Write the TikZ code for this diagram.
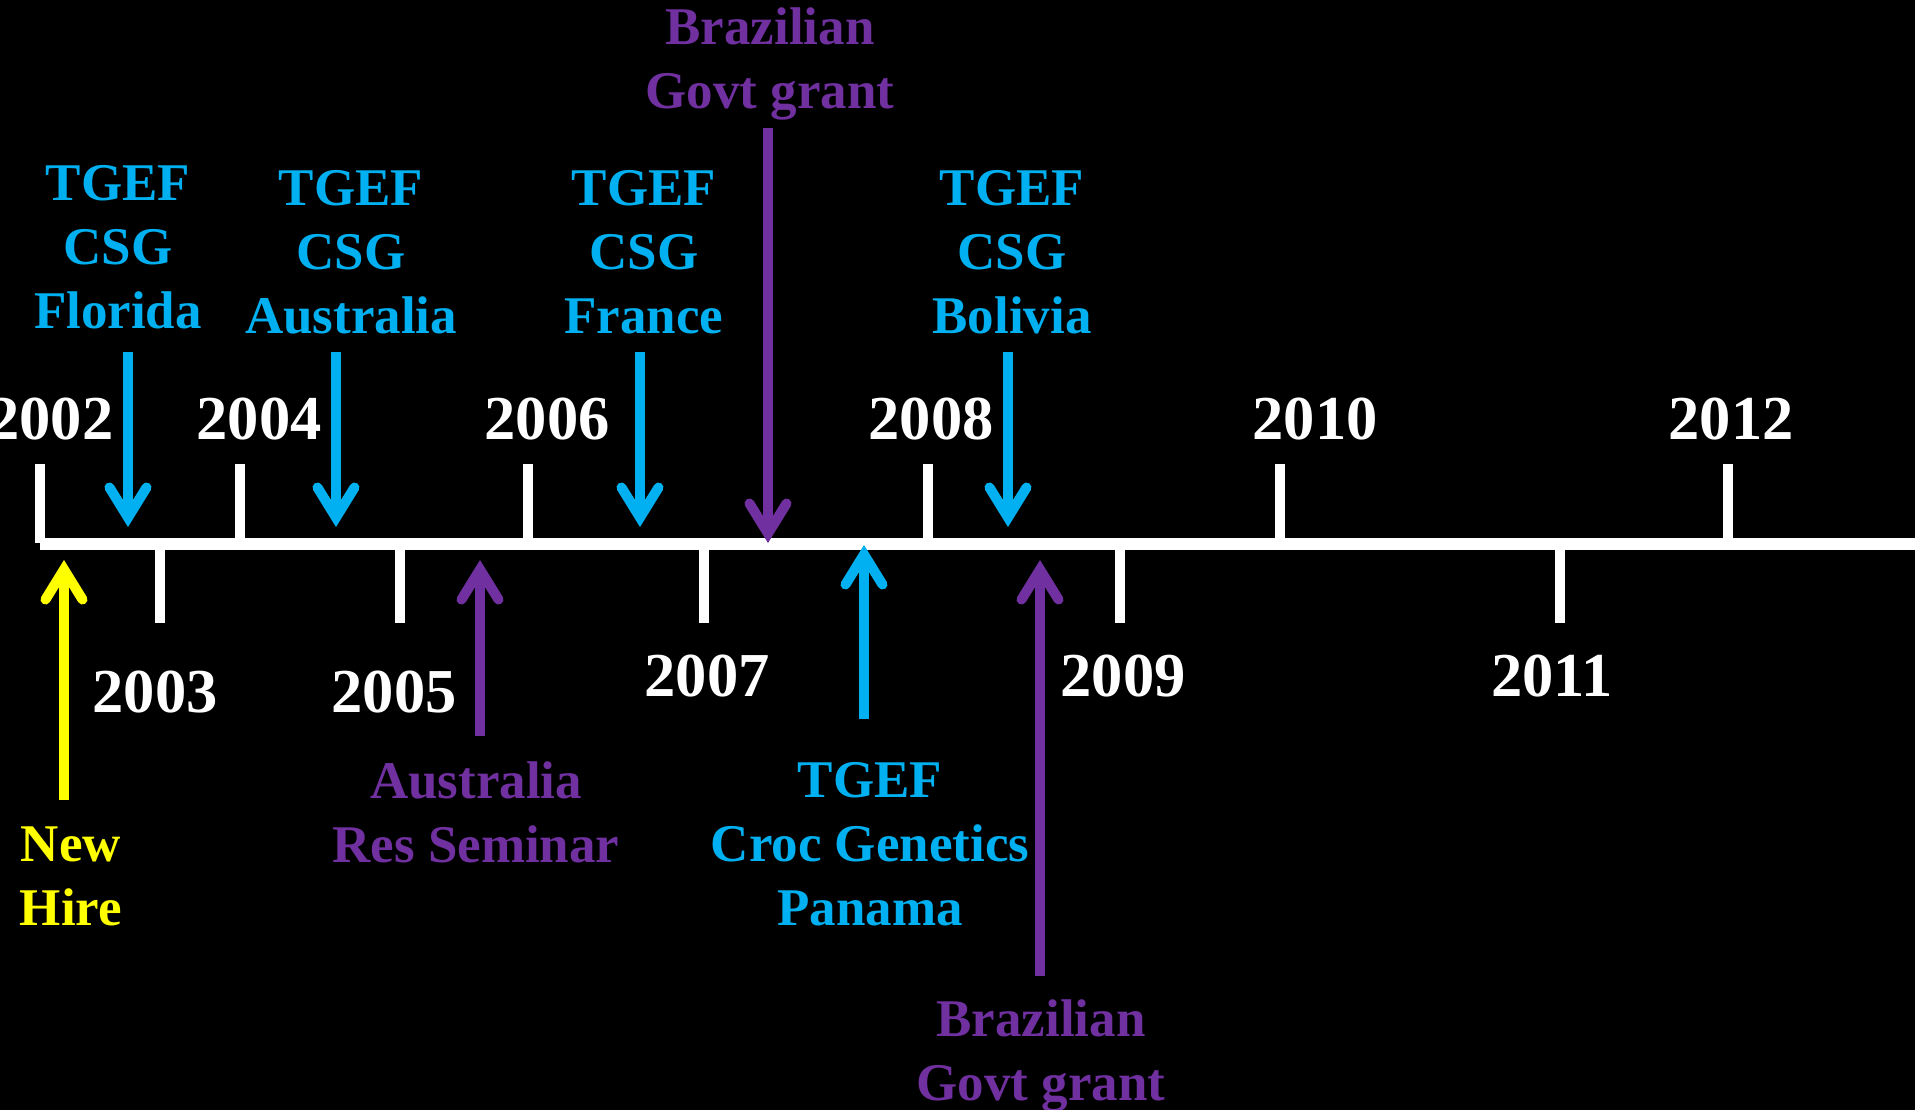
\documentclass[tikz,border=0pt]{standalone}
\usepackage{fontspec}
\setmainfont{Liberation Serif}
\definecolor{tgefblue}{HTML}{00B0F0}
\definecolor{grantpurple}{HTML}{7030A0}
\definecolor{hireyellow}{HTML}{FFFF00}
\tikzset{
  yearlbl/.style={anchor=base, inner sep=0pt, text=white, font=\bfseries\fontsize{62.5}{75}\selectfont},
  eventlbl/.style={anchor=base, inner sep=0pt, align=center, font=\bfseries\fontsize{53}{64}\selectfont},
  axisline/.style={draw=white, line width=12pt},
  tickline/.style={draw=white, line width=9.5pt},
  shaft/.style={line width=10pt},
  headdown/.pic={\draw[line width=10pt, line cap=round, line join=miter] (-18.5,-30) -- (0,0) -- (18.5,-30);},
  headup/.pic={\draw[line width=10pt, line cap=round, line join=miter] (-18.5,30) -- (0,0) -- (18.5,30);},
}
\begin{document}
\begin{tikzpicture}[x=1pt,y=-1pt]
\useasboundingbox (0,0) rectangle (1915,1110);
\fill[black] (0,0) rectangle (1915,1110);

% axis
\coordinate (axL) at (40,543.5);
\coordinate (axR) at (1915,543.5);
\draw[axisline] (axL) -- (axR);
\foreach \x/\n in {40/a2002,240/a2004,528/a2006,928/a2008,1280/a2010,1728/a2012}{
  \coordinate (\n-top) at (\x,464);
  \coordinate (\n-bot) at (\x,543);
  \draw[tickline] (\n-top) -- (\n-bot);
}
\foreach \x/\n in {160/a2003,400/a2005,704/a2007,1120/a2009,1560/a2011}{
  \coordinate (\n-top) at (\x,544);
  \coordinate (\n-bot) at (\x,623);
  \draw[tickline] (\n-top) -- (\n-bot);
}

% year labels
\node[yearlbl] (y2002) at (51,439) {2002};
\node[yearlbl] (y2004) at (259,439) {2004};
\node[yearlbl] (y2006) at (547,439) {2006};
\node[yearlbl] (y2008) at (931,439) {2008};
\node[yearlbl] (y2010) at (1315,439) {2010};
\node[yearlbl] (y2012) at (1731,439) {2012};
\node[yearlbl] (y2003) at (155,712) {2003};
\node[yearlbl] (y2005) at (394,712) {2005};
\node[yearlbl] (y2007) at (707,696) {2007};
\node[yearlbl] (y2009) at (1123,696) {2009};
\node[yearlbl] (y2011) at (1552,696) {2011};

% event labels above (anchor = baseline of last line)
\node[eventlbl, text=tgefblue] (evFlorida) at (118,328) {TGEF\\CSG\\Florida};
\node[eventlbl, text=tgefblue] (evAustralia) at (351,333) {TGEF\\CSG\\Australia};
\node[eventlbl, text=tgefblue] (evFrance) at (644,333) {TGEF\\CSG\\France};
\node[eventlbl, text=tgefblue] (evBolivia) at (1012,333) {TGEF\\CSG\\Bolivia};
\node[eventlbl, text=grantpurple] (evBrazilTop) at (770,109) {Brazilian\\Govt grant};

% event labels below
\node[eventlbl, text=hireyellow] (evHire) at (71,925) {New\\Hire};
\node[eventlbl, text=grantpurple] (evSeminar) at (476,862) {Australia\\Res Seminar};
\node[eventlbl, text=tgefblue] (evPanama) at (870,925) {TGEF\\Croc Genetics\\Panama};
\node[eventlbl, text=grantpurple] (evBrazilBot) at (1041,1100) {Brazilian\\Govt grant};

% down arrows
\foreach \x/\n in {128/fl,336/au,640/fr,1008/bo}{
  \coordinate (\n-start) at (\x,352);
  \coordinate (\n-tip) at (\x,517.5);
  \draw[shaft, tgefblue] (\n-start) -- (\n-tip);
  \pic[tgefblue] at (\n-tip) {headdown};
}
\coordinate (bt-start) at (768,128);
\coordinate (bt-tip) at (768,533.5);
\draw[shaft, grantpurple] (bt-start) -- (bt-tip);
\pic[grantpurple] at (bt-tip) {headdown};

% up arrows
\coordinate (nh-start) at (64,800);
\coordinate (nh-tip) at (64,569.5);
\draw[shaft, hireyellow] (nh-start) -- (nh-tip);
\pic[hireyellow] at (nh-tip) {headup};

\coordinate (rs-start) at (480,736);
\coordinate (rs-tip) at (480,569.5);
\draw[shaft, grantpurple] (rs-start) -- (rs-tip);
\pic[grantpurple] at (rs-tip) {headup};

\coordinate (pa-start) at (864,719);
\coordinate (pa-tip) at (864,554.5);
\draw[shaft, tgefblue] (pa-start) -- (pa-tip);
\pic[tgefblue] at (pa-tip) {headup};

\coordinate (bb-start) at (1040,976);
\coordinate (bb-tip) at (1040,569.5);
\draw[shaft, grantpurple] (bb-start) -- (bb-tip);
\pic[grantpurple] at (bb-tip) {headup};
\end{tikzpicture}
\end{document}
